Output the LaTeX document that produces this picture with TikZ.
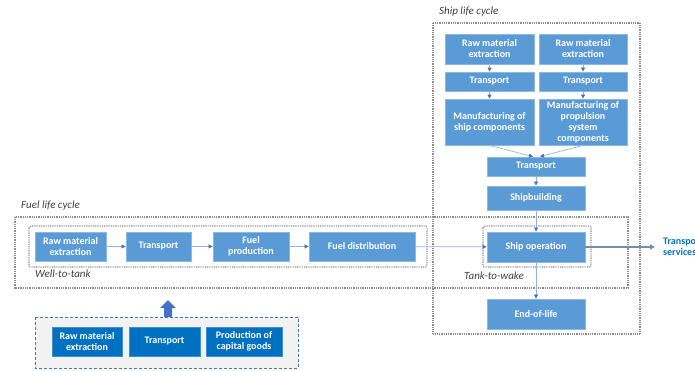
\documentclass[tikz,border=0pt]{standalone}
\usepackage{fontspec}
\setmainfont{Carlito}
\usetikzlibrary{arrows.meta}
\definecolor{boxblue}{HTML}{5B9BD5}
\definecolor{boxedge}{HTML}{8DB8E3}
\definecolor{darkblue}{HTML}{0070C0}
\definecolor{darkedge}{HTML}{3F8FD0}
\definecolor{linkblue}{HTML}{8FB4E3}
\definecolor{tipblue}{HTML}{4472C4}
\definecolor{dotgray}{HTML}{8C8C8C}
\definecolor{labelgray}{HTML}{404040}
\definecolor{outblue}{HTML}{6F8FAF}
\definecolor{textblue}{HTML}{0070C0}
\tikzset{
  bx/.style={fill=boxblue, draw=boxedge, line width=0.8pt, inner sep=0pt, align=center,
    text=white, font=\fontsize{10}{11}\selectfont\bfseries},
  dbx/.style={fill=darkblue, draw=darkedge, line width=0.8pt, inner sep=0pt, align=center,
    text=white, font=\fontsize{10}{11}\selectfont\bfseries},
  frame/.style={draw=dotgray, line width=1.1pt, dash pattern=on 0.9pt off 0.9pt},
  lbl/.style={anchor=west, inner sep=0pt, text=labelgray, font=\fontsize{11}{12}\selectfont\itshape},
  link/.style={draw=linkblue, line width=0.7pt, -{Triangle[length=4pt,width=4pt,color=tipblue]}},
}
\begin{document}
\begin{tikzpicture}[x=1pt,y=-1pt]
\useasboundingbox (0,0) rectangle (695,370);
% frames
\draw[frame] (433,23) rectangle (640,334);
\draw[frame] (15,217) rectangle (628,288);
\draw[frame, rounded corners=2pt] (29,226) rectangle (427,267);
\draw[frame, rounded corners=2pt] (483,226) rectangle (591,267);
\draw[draw=tipblue, fill=black!5, line width=1pt, dash pattern=on 3pt off 2pt] (35,317) rectangle (298,368);
% labels
\node[lbl] (lship) at (439,12) {Ship life cycle};
\node[lbl] (lfuel) at (21,206) {Fuel life cycle};
\node[lbl] (lwtt) at (35,274) {Well-to-tank};
\node[lbl] (lttw) at (464,276) {Tank-to-wake};
% ship boxes
\node[bx, minimum width=89, minimum height=30] (sr1) at (489.5,49) {Raw material\\extraction};
\node[bx, minimum width=88, minimum height=30] (sr2) at (583,49) {Raw material\\extraction};
\node[bx, minimum width=89, minimum height=19] (st1) at (489.5,81.5) {Transport};
\node[bx, minimum width=88, minimum height=19] (st2) at (583,81.5) {Transport};
\node[bx, minimum width=89, minimum height=46] (sm1) at (489.5,122) {Manufacturing of\\ship components};
\node[bx, minimum width=88, minimum height=46] (sm2) at (583,122) {Manufacturing of\\propulsion\\system\\components};
\node[bx, minimum width=98, minimum height=19] (ct) at (536,166.5) {Transport};
\node[bx, minimum width=98, minimum height=24] (sb) at (536,198) {Shipbuilding};
\node[bx, minimum width=98, minimum height=30] (so) at (536,247) {Ship operation};
\node[bx, minimum width=98, minimum height=30] (eol) at (536,314) {End-of-life};
% fuel boxes
\node[bx, minimum width=71, minimum height=29] (fr) at (70.5,246.5) {Raw material\\extraction};
\node[bx, minimum width=65, minimum height=29] (ft) at (158.5,246.5) {Transport};
\node[bx, minimum width=76, minimum height=29] (fp) at (251,246.5) {Fuel\\production};
\node[bx, minimum width=106, minimum height=29] (fd) at (362,246.5) {Fuel distribution};
% bottom boxes
\node[dbx, minimum width=70, minimum height=29] (br) at (87,341.5) {Raw material\\extraction};
\node[dbx, minimum width=71, minimum height=29] (bt) at (164.5,341.5) {Transport};
\node[dbx, minimum width=76, minimum height=29] (bp) at (244,341.5) {Production of\\capital goods};
% output text
\node[anchor=west, inner sep=0pt, align=left, text=textblue, font=\fontsize{10}{11}\selectfont\bfseries] (ts) at (663,246.5) {Transport\\services};
\coordinate (tsin) at (655,247);
% connectors
\draw[link] (sr1) -- (st1);
\draw[link] (sr2) -- (st2);
\draw[link] (st1) -- (sm1);
\draw[link] (st2) -- (sm2);
\draw[link] (sm1.south) -- ([xshift=-3]ct.north);
\draw[link] (sm2.south) -- ([xshift=4]ct.north);
\draw[link] (ct) -- (sb);
\draw[link] (sb) -- (so);
\draw[link] (so) -- (eol);
\draw[link] (fr) -- (ft);
\draw[link] (ft) -- (fp);
\draw[link] (fp) -- (fd);
\draw[link] (fd) -- (so);
\draw[draw=outblue, line width=1.2pt, -{Triangle[length=5pt,width=5pt]}] (so) -- (tsin);
% block arrow up
\coordinate (ua) at (168,317);
\fill[tipblue] ([xshift=-4]ua) -- ++(0,-9) -- ++(-4,0) -- (168,300) -- (176,308) -- (172,308) -- (172,317) -- cycle;
\end{tikzpicture}
\end{document}
